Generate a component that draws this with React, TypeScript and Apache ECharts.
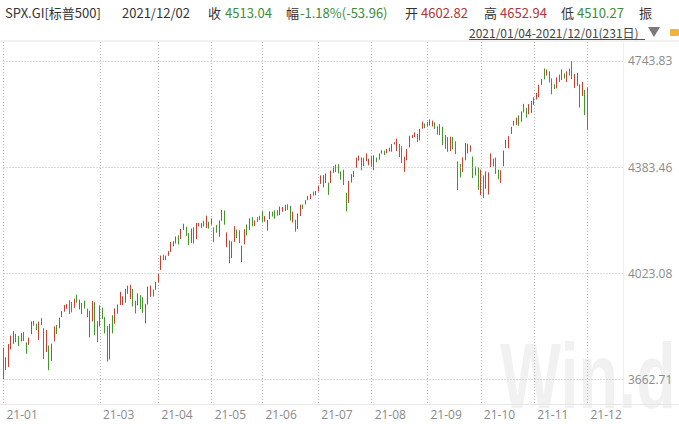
import React, { useEffect, useRef } from "react";
import * as echarts from "echarts";

// Trading days per month of 2021 (Jan..Dec)
const monthDays: number[][] = [
  [4, 5, 6, 7, 8, 11, 12, 13, 14, 15, 19, 20, 21, 22, 25, 26, 27, 28, 29],
  [1, 2, 3, 4, 5, 8, 9, 10, 11, 12, 16, 17, 18, 19, 22, 23, 24, 25, 26],
  [1, 2, 3, 4, 5, 8, 9, 10, 11, 12, 15, 16, 17, 18, 19, 22, 23, 24, 25, 26, 29, 30, 31],
  [1, 5, 6, 7, 8, 9, 12, 13, 14, 15, 16, 19, 20, 21, 22, 23, 26, 27, 28, 29, 30],
  [3, 4, 5, 6, 7, 10, 11, 12, 13, 14, 17, 18, 19, 20, 21, 24, 25, 26, 27, 28],
  [1, 2, 3, 4, 7, 8, 9, 10, 11, 14, 15, 16, 17, 18, 21, 22, 23, 24, 25, 28, 29, 30],
  [1, 2, 6, 7, 8, 9, 12, 13, 14, 15, 16, 19, 20, 21, 22, 23, 26, 27, 28, 29, 30],
  [2, 3, 4, 5, 6, 9, 10, 11, 12, 13, 16, 17, 18, 19, 20, 23, 24, 25, 26, 27, 30, 31],
  [1, 2, 3, 7, 8, 9, 10, 13, 14, 15, 16, 17, 20, 21, 22, 23, 24, 27, 28, 29, 30],
  [1, 4, 5, 6, 7, 8, 11, 12, 13, 14, 15, 18, 19, 20, 21, 22, 25, 26, 27, 28, 29],
  [1, 2, 3, 4, 5, 8, 9, 10, 11, 12, 15, 16, 17, 18, 19, 22, 23, 24, 26, 29, 30],
  [1],
];
// Empty days after the range (blank space on the right)
const padDays: number[] = [2, 3, 6, 7, 8, 9, 10, 13, 14, 15, 16, 17, 20, 21];

// [open, high, low, close]
const jan: number[][] = [
  [3764.61, 3769.99, 3662.71, 3700.65], [3698.02, 3737.83, 3695.07, 3726.86], [3712.2, 3783.04, 3705.34, 3748.14],
  [3764.71, 3811.55, 3764.71, 3803.79], [3815.05, 3826.69, 3783.6, 3824.68], [3803.14, 3817.86, 3789.02, 3799.61],
  [3801.62, 3810.78, 3776.51, 3801.19], [3802.23, 3820.96, 3791.5, 3809.84], [3814.98, 3823.6, 3792.86, 3795.54],
  [3788.73, 3788.73, 3749.62, 3768.25], [3781.88, 3804.53, 3780.37, 3798.91], [3816.22, 3859.75, 3816.22, 3851.85],
  [3857.46, 3861.45, 3845.05, 3853.07], [3844.24, 3852.31, 3830.41, 3841.47], [3851.68, 3859.23, 3797.16, 3855.36],
  [3862.96, 3870.9, 3847.78, 3849.62], [3836.83, 3836.83, 3732.48, 3750.77], [3755.75, 3830.5, 3755.75, 3787.38],
  [3778.05, 3778.05, 3694.12, 3714.24],
];
const feb: number[][] = [
  [3731.17, 3784.32, 3725.62, 3773.86], [3791.84, 3843.09, 3791.84, 3826.31], [3840.27, 3847.51, 3816.68, 3830.17],
  [3836.66, 3872.42, 3836.66, 3871.74], [3878.3, 3894.56, 3874.93, 3886.83], [3892.59, 3915.77, 3892.59, 3915.59],
  [3910.49, 3918.35, 3902.64, 3911.23], [3920.78, 3931.5, 3884.94, 3909.88], [3916.4, 3925.99, 3890.39, 3916.38],
  [3911.65, 3937.23, 3905.78, 3934.83], [3939.61, 3950.43, 3923.85, 3932.59], [3918.5, 3933.61, 3900.43, 3931.33],
  [3915.86, 3921.98, 3885.03, 3913.97], [3921.16, 3930.41, 3903.07, 3906.71], [3885.55, 3902.92, 3874.71, 3876.5],
  [3857.07, 3895.98, 3805.59, 3881.37], [3873.71, 3928.65, 3859.6, 3925.43], [3915.8, 3925.02, 3814.04, 3829.34],
  [3839.66, 3861.08, 3789.54, 3811.15],
];
const mar: number[][] = [
  [3842.51, 3914.5, 3842.51, 3901.82], [3903.64, 3906.41, 3868.57, 3870.29], [3863.99, 3874.47, 3818.86, 3819.72],
  [3818.53, 3843.67, 3723.34, 3768.47], [3793.58, 3851.69, 3730.19, 3841.94], [3844.39, 3881.06, 3819.25, 3821.35],
  [3851.93, 3903.76, 3851.93, 3875.44], [3891.99, 3917.35, 3885.73, 3898.81], [3915.54, 3960.27, 3915.54, 3939.34],
  [3924.52, 3944.99, 3915.21, 3943.34], [3942.96, 3970.08, 3923.54, 3968.94], [3973.59, 3981.04, 3953.44, 3962.71],
  [3949.57, 3983.87, 3935.74, 3974.12], [3953.5, 3969.62, 3910.86, 3915.46], [3913.14, 3930.12, 3886.75, 3913.1],
  [3916.48, 3955.31, 3914.16, 3940.59], [3937.6, 3949.13, 3901.57, 3910.52], [3919.93, 3942.08, 3889.07, 3889.14],
  [3879.34, 3919.54, 3853.5, 3909.52], [3917.12, 3978.19, 3917.12, 3974.54], [3969.31, 3981.83, 3943.25, 3971.09],
  [3963.34, 3968.01, 3944.35, 3958.55], [3967.25, 3994.41, 3966.98, 3972.89],
];
const apr: number[][] = [
  [3992.78, 4020.63, 3992.78, 4019.87], [4034.44, 4083.42, 4034.44, 4077.91], [4075.57, 4086.23, 4068.14, 4073.94],
  [4074.29, 4083.13, 4068.31, 4079.95], [4089.95, 4098.19, 4082.54, 4097.17], [4096.11, 4129.48, 4095.51, 4128.8],
  [4124.71, 4131.76, 4114.82, 4127.99], [4130.1, 4148.0, 4124.43, 4141.59], [4141.58, 4151.69, 4120.87, 4124.66],
  [4139.76, 4173.49, 4139.76, 4170.42], [4174.14, 4191.31, 4170.75, 4185.47], [4179.8, 4180.81, 4150.47, 4163.26],
  [4159.18, 4159.18, 4118.38, 4134.94], [4128.42, 4175.02, 4126.35, 4173.42], [4170.46, 4179.57, 4123.69, 4134.98],
  [4138.78, 4194.17, 4138.78, 4180.17], [4185.03, 4194.19, 4182.36, 4187.62], [4188.25, 4193.35, 4176.22, 4186.72],
  [4185.14, 4201.53, 4181.78, 4183.18], [4206.14, 4218.78, 4176.81, 4211.47], [4198.1, 4198.1, 4174.85, 4181.17],
];
const may: number[][] = [
  [4191.98, 4209.39, 4188.03, 4192.66], [4179.04, 4179.04, 4128.59, 4164.66], [4177.06, 4187.72, 4160.94, 4167.59],
  [4169.14, 4202.7, 4147.33, 4201.62], [4210.34, 4238.04, 4201.64, 4232.6], [4228.29, 4236.39, 4188.13, 4188.43],
  [4150.34, 4162.04, 4111.53, 4152.1], [4130.55, 4134.73, 4056.88, 4063.04], [4074.99, 4131.58, 4074.99, 4112.5],
  [4129.58, 4183.13, 4129.58, 4173.85], [4169.92, 4171.92, 4142.69, 4163.29], [4165.94, 4169.15, 4125.99, 4127.83],
  [4098.45, 4116.93, 4061.41, 4115.68], [4121.97, 4172.8, 4121.97, 4159.12], [4168.61, 4188.72, 4151.72, 4155.86],
  [4170.16, 4209.52, 4170.16, 4197.05], [4205.94, 4213.42, 4182.52, 4188.13], [4191.59, 4202.61, 4184.11, 4195.99],
  [4201.94, 4213.38, 4197.78, 4200.88], [4210.77, 4218.36, 4203.57, 4204.11],
];
const jun: number[][] = [
  [4216.52, 4234.12, 4197.59, 4202.04], [4206.82, 4217.37, 4198.27, 4208.12], [4191.43, 4204.39, 4167.93, 4192.85],
  [4206.05, 4233.45, 4206.05, 4229.89], [4229.34, 4232.34, 4215.66, 4226.52], [4233.81, 4236.74, 4208.41, 4227.26],
  [4232.99, 4237.09, 4218.74, 4219.55], [4228.56, 4249.74, 4220.34, 4239.18], [4242.9, 4248.38, 4232.25, 4247.44],
  [4248.31, 4255.59, 4234.07, 4255.15], [4255.28, 4257.16, 4238.35, 4246.59], [4248.87, 4251.89, 4202.45, 4223.7],
  [4220.37, 4232.29, 4196.05, 4221.86], [4204.78, 4204.78, 4164.4, 4166.45], [4173.4, 4226.24, 4173.4, 4224.79],
  [4224.61, 4255.84, 4217.27, 4246.44], [4249.27, 4256.6, 4241.43, 4241.84], [4256.97, 4271.28, 4256.97, 4266.49],
  [4274.45, 4286.12, 4271.16, 4280.7], [4284.9, 4292.14, 4274.67, 4290.61], [4293.21, 4300.52, 4287.04, 4291.8],
  [4290.65, 4302.43, 4287.96, 4297.5],
];
const jul: number[][] = [
  [4300.73, 4320.66, 4300.73, 4319.94], [4326.6, 4355.43, 4326.6, 4352.34], [4356.46, 4356.46, 4314.37, 4343.54],
  [4351.01, 4361.88, 4329.79, 4358.13], [4321.07, 4330.88, 4289.37, 4320.82], [4329.38, 4371.6, 4329.38, 4369.55],
  [4372.41, 4386.68, 4364.03, 4384.63], [4381.07, 4392.37, 4366.92, 4369.21], [4380.11, 4393.68, 4362.36, 4374.3],
  [4369.02, 4369.02, 4340.7, 4360.03], [4367.43, 4375.09, 4322.53, 4327.16], [4296.4, 4296.4, 4233.13, 4258.49],
  [4265.11, 4336.84, 4262.05, 4323.06], [4331.13, 4359.7, 4331.13, 4358.69], [4361.27, 4369.87, 4350.06, 4367.48],
  [4381.2, 4415.18, 4381.2, 4411.79], [4409.58, 4422.73, 4405.45, 4422.3], [4416.38, 4416.38, 4372.51, 4401.46],
  [4402.95, 4415.47, 4387.01, 4400.64], [4403.59, 4429.97, 4403.59, 4419.15], [4395.12, 4412.25, 4389.65, 4395.26],
];
const aug: number[][] = [
  [4406.86, 4422.18, 4384.81, 4387.16], [4392.74, 4423.79, 4373.0, 4423.15], [4415.95, 4416.17, 4400.23, 4402.66],
  [4408.86, 4429.76, 4408.86, 4429.1], [4429.07, 4440.82, 4429.07, 4436.52], [4437.77, 4439.39, 4424.74, 4432.35],
  [4435.79, 4445.21, 4430.03, 4436.75], [4442.18, 4449.44, 4436.42, 4447.7], [4446.08, 4461.77, 4435.96, 4460.83],
  [4464.84, 4468.37, 4460.82, 4468.0], [4461.65, 4480.26, 4437.66, 4479.71], [4462.12, 4462.12, 4417.83, 4448.08],
  [4440.94, 4454.32, 4397.59, 4400.27], [4382.44, 4418.61, 4367.73, 4405.8], [4410.56, 4444.35, 4406.8, 4441.67],
  [4450.29, 4489.88, 4450.29, 4479.53], [4484.4, 4492.81, 4482.28, 4486.23], [4490.45, 4501.71, 4485.66, 4496.19],
  [4493.75, 4495.9, 4468.99, 4470.0], [4474.1, 4513.33, 4474.1, 4509.37], [4513.76, 4537.36, 4513.76, 4528.79],
  [4529.75, 4531.39, 4515.8, 4522.68],
];
const sep: number[][] = [
  [4528.8, 4537.11, 4522.02, 4524.09], [4534.48, 4545.85, 4524.66, 4536.95], [4532.42, 4541.45, 4521.65, 4535.43],
  [4535.38, 4535.38, 4513.0, 4520.03], [4518.09, 4521.79, 4493.95, 4514.07], [4513.02, 4529.9, 4492.07, 4493.28],
  [4506.92, 4520.47, 4457.66, 4458.58], [4474.81, 4492.99, 4445.7, 4468.73], [4479.33, 4485.68, 4435.46, 4443.05],
  [4447.49, 4486.87, 4438.37, 4480.7], [4477.09, 4485.87, 4443.8, 4473.75], [4469.74, 4471.52, 4427.76, 4432.99],
  [4402.95, 4402.95, 4305.91, 4357.73], [4374.45, 4394.87, 4347.96, 4354.19], [4367.43, 4416.75, 4367.43, 4395.64],
  [4406.75, 4465.4, 4406.75, 4448.98], [4438.04, 4463.12, 4430.27, 4455.48], [4442.12, 4457.3, 4436.19, 4443.11],
  [4419.54, 4419.54, 4346.33, 4352.63], [4362.41, 4385.57, 4355.08, 4359.46], [4370.67, 4382.55, 4306.24, 4307.54],
];
const oct: number[][] = [
  [4317.16, 4375.19, 4288.52, 4357.04], [4348.84, 4355.51, 4278.94, 4300.46], [4309.87, 4369.23, 4309.87, 4345.72],
  [4319.57, 4365.57, 4290.49, 4363.55], [4383.73, 4429.97, 4383.73, 4399.76], [4406.51, 4412.02, 4386.22, 4391.34],
  [4385.44, 4415.88, 4360.59, 4361.19], [4368.31, 4374.89, 4342.09, 4350.65], [4358.01, 4372.87, 4329.92, 4363.8],
  [4386.75, 4439.73, 4386.75, 4438.26], [4447.69, 4475.82, 4447.69, 4471.37], [4463.72, 4488.75, 4447.47, 4486.46],
  [4497.34, 4520.4, 4496.41, 4519.63], [4524.42, 4540.87, 4524.4, 4536.19], [4532.24, 4551.44, 4526.89, 4549.78],
  [4546.12, 4559.67, 4524.0, 4544.9], [4553.69, 4572.62, 4537.36, 4566.48], [4578.69, 4598.53, 4569.17, 4574.79],
  [4580.22, 4584.57, 4551.66, 4551.68], [4562.84, 4597.55, 4562.84, 4596.42], [4572.87, 4608.08, 4567.59, 4605.38],
];
const nov: number[][] = [
  [4610.62, 4620.34, 4595.06, 4613.67], [4613.34, 4635.15, 4613.34, 4630.65], [4630.65, 4663.46, 4621.19, 4660.57],
  [4662.93, 4683.0, 4662.59, 4680.06], [4699.26, 4718.5, 4681.32, 4697.53], [4701.48, 4714.92, 4694.39, 4701.7],
  [4707.25, 4708.53, 4670.87, 4685.25], [4670.26, 4684.85, 4630.86, 4646.71], [4659.39, 4664.55, 4648.31, 4649.27],
  [4655.24, 4688.47, 4650.77, 4682.85], [4689.3, 4697.42, 4672.86, 4682.8], [4679.42, 4714.95, 4679.42, 4700.9],
  [4701.5, 4701.5, 4684.41, 4688.67], [4700.72, 4708.8, 4672.78, 4704.54], [4708.44, 4717.75, 4694.22, 4697.96],
  [4712.0, 4743.83, 4682.17, 4682.94], [4678.48, 4699.39, 4652.66, 4690.7], [4675.78, 4702.87, 4659.89, 4701.46],
  [4664.63, 4664.63, 4585.43, 4594.62], [4628.75, 4672.95, 4625.26, 4655.27], [4640.25, 4646.02, 4560.0, 4567.0],
];
const dec: number[][] = [[4602.82, 4652.94, 4510.27, 4513.04]];

const yLevels: number[] = [3662.71, 4023.08, 4383.46, 4743.83];

const UP = "#c8402f";
const DOWN = "#43962c";

export default function App() {
  const ref = useRef<HTMLDivElement>(null);
  useEffect(() => {
    if (!ref.current) return;
    const chart = echarts.init(ref.current, undefined, { renderer: "svg" });
    const months = [jan, feb, mar, apr, may, jun, jul, aug, sep, oct, nov, dec];
    const cats: string[] = [];
    const data: any[] = [];
    const labelIdx = new Set<number>();
    months.forEach((m, mi) => {
      monthDays[mi].forEach((d, di) => {
        if (di === 0 && mi !== 1) labelIdx.add(cats.length);
        const mm = String(mi + 1).padStart(2, "0");
        cats.push(`2021-${mm}-${String(d).padStart(2, "0")}`);
        const [o, h, l, c] = m[di];
        data.push([o, c, l, h]);
      });
    });
    padDays.forEach((d) => {
      cats.push(`2021-12-${String(d).padStart(2, "0")}`);
      data.push(["-", "-", "-", "-"]);
    });
    const showIdx = (i: number) => labelIdx.has(i);
    const txt = (text: string, x: number, y: number, fill: string, size = 13, extra: any = {}) => ({
      type: "text",
      x,
      y,
      style: {
        text,
        fill,
        font: `${size}px "Noto Sans CJK SC", "Open Sans", sans-serif`,
        verticalAlign: "middle",
        ...extra,
      },
    });
    const LBL = "#333333";
    const G = "#3c8c3c";
    const R = "#b0353a";
    chart.setOption({
      animation: false,
      backgroundColor: "#ffffff",
      grid: { left: 3.5, right: 56, top: 42, bottom: 19 },
      xAxis: {
        type: "category",
        data: cats,
        boundaryGap: false,
        axisLine: { show: false },
        axisTick: { show: false },
        axisLabel: {
          interval: (i: number) => showIdx(i),
          formatter: (v: string) => v.slice(2, 7),
          align: "left",
          padding: [0, 0, 0, 3],
          color: "#8a8a8a",
          fontSize: 12,
          fontFamily: "Open Sans, sans-serif",
          margin: 3,
        },
        splitLine: {
          show: true,
          interval: (i: number) => showIdx(i),
          lineStyle: { color: "#b8b8b8", type: [1, 2], width: 1 },
        },
      },
      yAxis: {
        type: "value",
        min: 3576,
        max: 4808.3,
        show: false,
        splitLine: { show: false },
      },
      graphic: [
        {
          type: "text",
          x: 500,
          y: 422,
          z: -10,
          scaleX: 1.08,
          scaleY: 1.55,
          style: {
            text: "Win.d",
            fill: "rgba(0,0,0,0.055)",
            font: 'bold 60px "Liberation Sans", sans-serif',
            verticalAlign: "bottom",
          },
        },
        { type: "line", shape: { x1: 0, y1: 41, x2: 679, y2: 41 }, style: { stroke: "#e4e4e4", lineWidth: 1 } },
        { type: "line", shape: { x1: 0, y1: 404.5, x2: 679, y2: 404.5 }, style: { stroke: "#e6e6e6", lineWidth: 1 } },
        { type: "line", shape: { x1: 623.5, y1: 41, x2: 623.5, y2: 405 }, style: { stroke: "#f0f0f0", lineWidth: 1 } },
        txt("SPX.GI[标普500]", 5, 12, LBL),
        txt("2021/12/02", 122, 12, LBL),
        txt("收", 208, 12, LBL),
        txt("4513.04", 225, 12, G),
        txt("幅", 286, 12, LBL),
        txt("-1.18%(-53.96)", 300, 12, G),
        txt("开", 405, 12, LBL),
        txt("4602.82", 421, 12, R),
        txt("高", 484, 12, LBL),
        txt("4652.94", 500, 12, R),
        txt("低", 561, 12, LBL),
        txt("4510.27", 577, 12, G),
        txt("振", 639, 12, LBL),
        txt("2021/01/04-2021/12/01(231日)", 469, 32, "#444444", 12),
        { type: "line", shape: { x1: 469, y1: 39.5, x2: 645, y2: 39.5 }, style: { stroke: "#555555", lineWidth: 1 } },
        { type: "polygon", shape: { points: [[648, 27], [660, 27], [654, 37]] }, style: { fill: "#7a7a7a" } },
        { type: "rect", shape: { x: 670, y: 29, width: 9, height: 7, r: 1 }, style: { fill: "#f0b43a" } },
      ],
      series: [
        {
          type: "candlestick",
          data,
          barWidth: 1,
          itemStyle: {
            color: UP,
            color0: DOWN,
            borderColor: UP,
            borderColor0: DOWN,
            borderWidth: 1,
          },
          markLine: {
            silent: true,
            symbol: "none",
            animation: false,
            lineStyle: { color: "#b8b8b8", type: [1, 2], width: 1 },
            label: {
              position: "end",
              color: "#8a8a8a",
              fontSize: 12,
              fontFamily: "Open Sans, sans-serif",
              distance: 5,
              formatter: (p: any) => Number(p.value).toFixed(2),
            },
            data: yLevels.map((v) => ({ yAxis: v })),
          },
        },
      ],
    });
    return () => chart.dispose();
  }, []);
  return <div ref={ref} style={{ width: 679, height: 424, position: "fixed", left: 0, top: 0 }} />;
}
